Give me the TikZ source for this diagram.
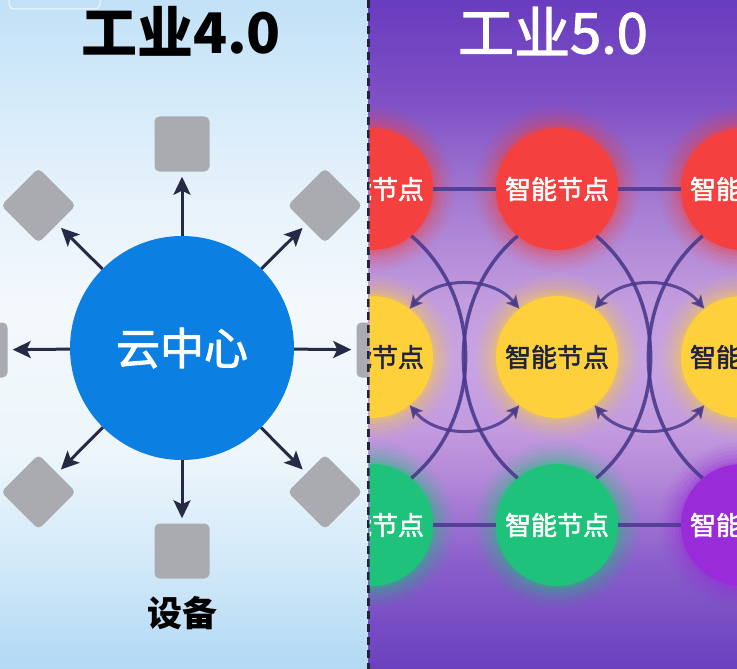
\documentclass[tikz,border=0pt]{standalone}
\usepackage{fontspec}
\newfontfamily\cjk{Noto Sans CJK SC}
\newfontfamily\cjkm[FakeBold=2]{Noto Sans CJK SC}
\usetikzlibrary{arrows.meta}
\definecolor{lbA}{HTML}{C2E1F7}
\definecolor{lbB}{HTML}{D5EBF9}
\definecolor{lbC}{HTML}{E7F2FB}
\definecolor{lbD}{HTML}{F3F8FC}
\definecolor{lbE}{HTML}{EEF6FB}
\definecolor{lbF}{HTML}{D6EBF9}
\definecolor{lbG}{HTML}{B2D9F4}
\definecolor{pA}{HTML}{683CBE}
\definecolor{pB}{HTML}{7F50C5}
\definecolor{pC}{HTML}{A47BD2}
\definecolor{pD}{HTML}{C29CDF}
\definecolor{pE}{HTML}{C8A3E2}
\definecolor{pF}{HTML}{C39BDF}
\definecolor{pG}{HTML}{B286D8}
\definecolor{pH}{HTML}{8A5ECB}
\definecolor{pI}{HTML}{6A40BE}
\definecolor{cblue}{HTML}{0C80E2}
\definecolor{devgray}{HTML}{A9ABB1}
\definecolor{navy}{HTML}{262A45}
\definecolor{divc}{HTML}{1F2438}
\definecolor{nred}{HTML}{F4403F}
\definecolor{nyel}{HTML}{FDD03C}
\definecolor{ngrn}{HTML}{1FC27B}
\definecolor{npur}{HTML}{9A2BD8}
\definecolor{linec}{HTML}{4E3A93}
\definecolor{arcc}{HTML}{4A3A8C}
\definecolor{ytext}{HTML}{1F2340}
% TikZ maps the path onto the 25bp--75bp band of a 100bp shading
\pgfdeclareverticalshading{leftbg}{100bp}{color(0bp)=(lbG); color(25bp)=(lbG); color(34bp)=(lbF); color(41.5bp)=(lbE); color(52.5bp)=(lbD); color(60bp)=(lbC); color(67.5bp)=(lbB); color(75bp)=(lbA); color(100bp)=(lbA)}
\pgfdeclareverticalshading{rightbg}{100bp}{color(0bp)=(pI); color(25bp)=(pI); color(33bp)=(pH); color(39bp)=(pG); color(43bp)=(pF); color(48bp)=(pE); color(52.5bp)=(pD); color(60bp)=(pC); color(67.5bp)=(pB); color(75bp)=(pA); color(100bp)=(pA)}
\begin{document}
\begin{tikzpicture}[x=1pt,y=-1pt,
  dev/.style={rectangle, rounded corners=5pt, fill=devgray, minimum size=55pt, inner sep=0pt},
  diam/.style={dev, rotate=45, minimum size=53pt},
  arr/.style={draw=navy, line width=3pt, -{Stealth[length=18pt,width=17pt,inset=4pt]}, shorten >=5pt},
  nd/.style={circle, minimum size=122pt, inner sep=0pt, font=\cjkm\fontsize{26}{26}\selectfont, text=white,
    preaction={draw=#1, draw opacity=.05, line width=44pt},
    preaction={draw=#1, draw opacity=.07, line width=36pt},
    preaction={draw=#1, draw opacity=.09, line width=28pt},
    preaction={draw=#1, draw opacity=.12, line width=20pt},
    preaction={draw=#1, draw opacity=.16, line width=12pt},
    preaction={draw=#1, draw opacity=.22, line width=5pt},
    fill=#1},
  hl/.style={draw=linec, line width=4pt, draw opacity=.9},
  varc/.style={draw=arcc, line width=3.5pt, draw opacity=.9},
  darr/.style={draw=arcc, line width=3pt, draw opacity=.85, {Stealth[length=13pt,width=13pt,inset=3pt]}-{Stealth[length=13pt,width=13pt,inset=3pt]}}
]
\useasboundingbox (0,0) rectangle (737,669);
\shade[shading=leftbg] (0,0) rectangle (368,669);
\shade[shading=rightbg] (368,0) rectangle (737,669);

% left panel
\begin{scope}
\clip (0,0) rectangle (368,669);
\draw[white, draw opacity=.8, line width=1pt, rounded corners=5pt] (9,-10) rectangle (100,9);
\node[circle, fill=cblue, minimum size=224pt, inner sep=0pt, text=white, font=\cjkm\fontsize{44}{44}\selectfont] (c) at (182,348) {云中心};
\node[dev] (sT) at (182,144) {};
\node[dev] (sB) at (182,551) {};
\node[dev] (sL) at (-20,350) {};
\node[dev] (sR) at (384,350) {};
\node[diam] (sTL) at (38.5,205.5) {};
\node[diam] (sTR) at (325,205.5) {};
\node[diam] (sBL) at (38.5,492) {};
\node[diam] (sBR) at (325,492) {};
\foreach \s in {sT,sB,sL,sR,sTL,sTR,sBL,sBR} \draw[arr] (c) -- (\s);
\node[font=\cjk\bfseries\fontsize{56}{56}\selectfont, text=black] (t4) at (181,31) {工业4.0};
\node[font=\cjk\bfseries\fontsize{35}{35}\selectfont, text=black] (lab) at (182,613) {设备};
\end{scope}

% divider
\coordinate (dt) at (368,0);
\coordinate (db) at (368,669);
\draw[divc, line width=3pt, dash pattern=on 8pt off 5pt] (dt) -- (db);

% right panel
\begin{scope}
\clip (369.5,0) rectangle (737,669);
\node[font=\cjkm\fontsize{56}{56}\selectfont, text=white] (t5) at (553,31) {工业5.0};
\node[nd=nred] (r1) at (372,189) {智能节点};
\node[nd=nred] (r2) at (557,189) {智能节点};
\node[nd=nred] (r3) at (742,189) {智能节点};
\node[nd=nyel, text=ytext] (y1) at (372,357) {智能节点};
\node[nd=nyel, text=ytext] (y2) at (557,357) {智能节点};
\node[nd=nyel, text=ytext] (y3) at (742,357) {智能节点};
\node[nd=ngrn] (g1) at (372,525) {智能节点};
\node[nd=ngrn] (g2) at (557,525) {智能节点};
\node[nd=npur] (p3) at (742,525) {智能节点};
\draw[hl] (r1) -- (r2);
\draw[hl] (r2) -- (r3);
\draw[hl] (g1) -- (g2);
\draw[hl] (g2) -- (p3);
\draw[varc] (r1.-50) to[bend left=50] (g1.50);
\draw[varc] (r2.-130) to[bend right=50] (g2.130);
\draw[varc] (r2.-50) to[bend left=50] (g2.50);
\draw[varc] (r3.-130) to[bend right=50] (p3.130);
\draw[darr] (y1.52) to[bend left=50] (y2.128);
\draw[darr] (y1.-52) to[bend right=50] (y2.-128);
\draw[darr] (y2.52) to[bend left=50] (y3.128);
\draw[darr] (y2.-52) to[bend right=50] (y3.-128);
\end{scope}
\end{tikzpicture}
\end{document}
